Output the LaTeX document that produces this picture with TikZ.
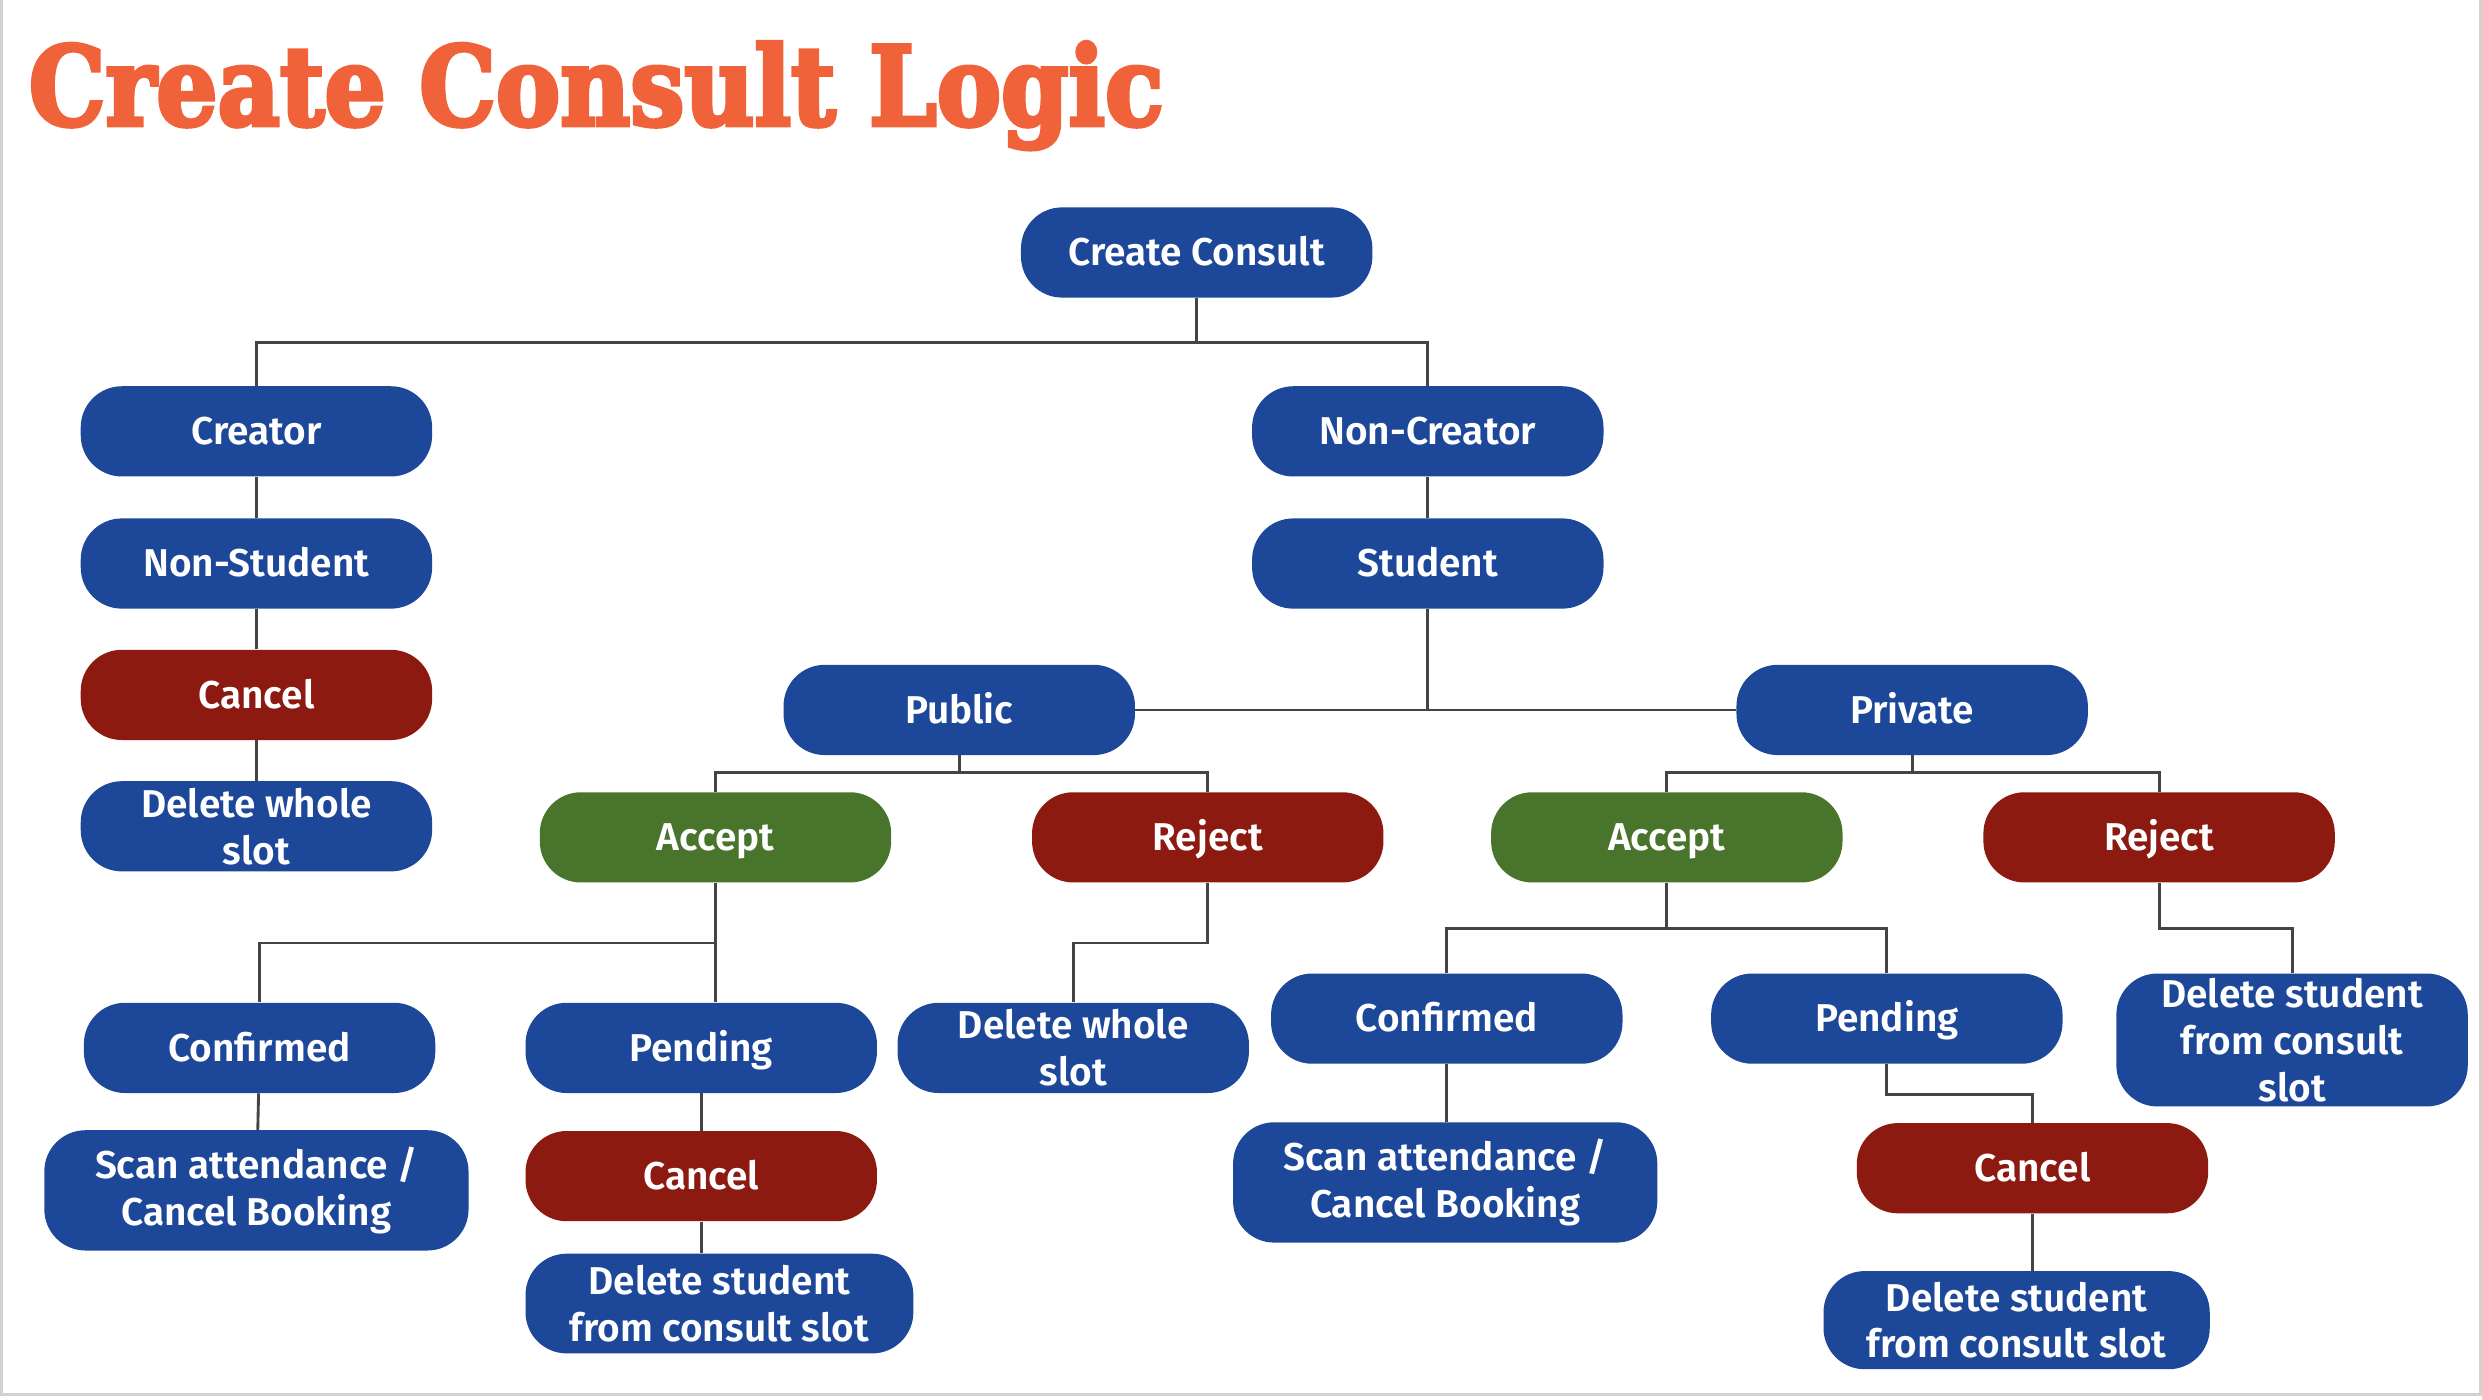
\documentclass[tikz,border=0pt]{standalone}
\usepackage{fontspec}
\usepackage{graphicx}
\usepackage{xcolor}
\usepackage{tikz}
\newfontfamily\titlefont{DejaVu Serif}[UprightFont=* Bold, FakeBold=4]
\newfontfamily\nodefont{Fira Sans SemiBold}
\definecolor{pillblue}{HTML}{1D4799}
\definecolor{pillred}{HTML}{8C1A11}
\definecolor{pillgreen}{HTML}{48742C}
\definecolor{titleorange}{HTML}{F0633A}
\definecolor{wire}{HTML}{444444}

\begin{document}
\begin{tikzpicture}[x=1pt, y=-1pt,
    pill/.style={rounded corners=26pt, minimum width=222pt, minimum height=57pt,
      inner sep=0pt, text=white, align=center,
      font=\nodefont\fontsize{24.5pt}{29.5pt}\selectfont},
    oneline/.style={text height=20pt, text depth=3.1pt},
    bluepill/.style={pill, oneline, fill=pillblue},
    redpill/.style={pill, oneline, fill=pillred},
    greenpill/.style={pill, oneline, fill=pillgreen},
    bluewrap/.style={pill, fill=pillblue},
    link/.style={draw=wire, line width=1.8pt}]
  \useasboundingbox (0,0) rectangle (1568,884);
  \draw[gray!35, line width=2pt] (1,0) -- (1,881) -- (1567,881) -- (1567,0);

  % title
  \node[anchor=base west, inner sep=0pt, text=titleorange] (title) at (18,79)
    {\resizebox{717pt}{52.5pt}{\titlefont Create Consult Logic}};

  % top level
  \node[bluepill] (create) at (756,159.5) {Create Consult};

  % creator branch
  \node[bluepill] (creator) at (162,272.5) {Creator};
  \node[bluepill] (nonstudent) at (162,356) {Non-Student};
  \node[redpill] (cancelA) at (162,439) {Cancel};
  \node[bluewrap] (deleteA) at (162,522) {Delete whole\\slot};

  % non-creator branch
  \node[bluepill] (noncreator) at (902,272.5) {Non-Creator};
  \node[bluepill] (student) at (902,356) {Student};
  \node[bluepill] (public) at (606,448.5) {Public};
  \node[bluepill] (private) at (1208,448.5) {Private};

  % public
  \node[greenpill] (acceptA) at (452,529) {Accept};
  \node[redpill] (rejectA) at (763,529) {Reject};
  \node[bluepill] (confirmedA) at (164,662) {Confirmed};
  \node[bluepill] (pendingA) at (443,662) {Pending};
  \node[bluewrap] (deleteB) at (678,662) {Delete whole\\slot};
  \node[bluewrap, minimum width=268pt, minimum height=76pt] (scanA) at (162,752)
    {Scan attendance /\\Cancel Booking};
  \node[redpill] (cancelB) at (443,743) {Cancel};
  \node[bluewrap, minimum width=245pt, minimum height=63pt] (deleteC) at (454.5,823.5)
    {Delete student\\from consult slot};

  % private
  \node[greenpill] (acceptB) at (1053,529) {Accept};
  \node[redpill] (rejectB) at (1364,529) {Reject};
  \node[bluepill] (confirmedB) at (914,643.5) {Confirmed};
  \node[bluepill] (pendingB) at (1192,643.5) {Pending};
  \node[bluewrap, minimum height=84pt] (deleteD) at (1448,657)
    {Delete student\\from consult\\slot};
  \node[bluewrap, minimum width=268pt, minimum height=76pt] (scanB) at (913,747)
    {Scan attendance /\\Cancel Booking};
  \node[redpill] (cancelC) at (1284,738) {Cancel};
  \node[bluewrap, minimum width=244pt, minimum height=62pt] (deleteE) at (1274,834)
    {Delete student\\from consult slot};

  % connectors
  \draw[link] (create.south) -- ++(0,28) -| (creator.north);
  \draw[link] (create.south) -- ++(0,28) -| (noncreator.north);
  \draw[link] (creator) -- (nonstudent) -- (cancelA) -- (deleteA);
  \draw[link] (noncreator) -- (student);
  \draw[link] (student.south) |- (public.east);
  \draw[link] (student.south) |- (private.west);

  \draw[link] (public.south) -- ++(0,11) -| (acceptA.north);
  \draw[link] (public.south) -- ++(0,11) -| (rejectA.north);
  \draw[link] (acceptA.south) -- ++(0,38) -| (confirmedA.north);
  \draw[link] (acceptA.south) -- (acceptA.south |- pendingA.north);
  \draw[link] (rejectA.south) -- ++(0,38) -| (deleteB.north);
  \draw[link] (confirmedA) -- (scanA);
  \draw[link] (pendingA) -- (cancelB);
  \draw[link] (cancelB.south) -- (cancelB.south |- deleteC.north);

  \draw[link] (private.south) -- ++(0,11) -| (acceptB.north);
  \draw[link] (private.south) -- ++(0,11) -| (rejectB.north);
  \draw[link] (acceptB.south) -- ++(0,29) -| (confirmedB.north);
  \draw[link] (acceptB.south) -- ++(0,29) -| (pendingB.north);
  \draw[link] (rejectB.south) -- ++(0,29) -| (deleteD.north);
  \draw[link] (confirmedB.south) -- (confirmedB.south |- scanB.north);
  \draw[link] (pendingB.south) -- ++(0,19) -| (cancelC.north);
  \draw[link] (cancelC.south) -- (cancelC.south |- deleteE.north);
\end{tikzpicture}
\end{document}
